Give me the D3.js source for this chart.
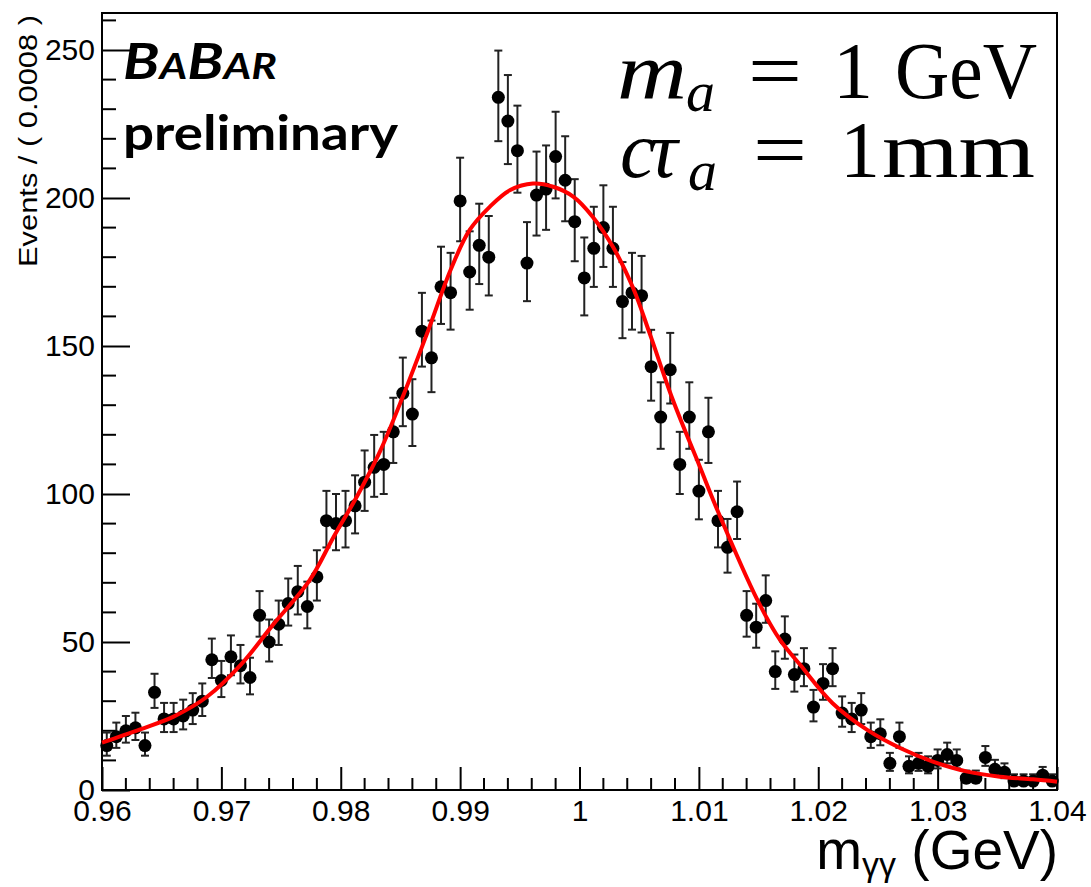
<!DOCTYPE html>
<html>
<head>
<meta charset="utf-8">
<script src="https://cdn.jsdelivr.net/npm/d3@7"></script>
<style>
  body { margin: 0; background: #fff; }
  text { font-family: "Liberation Sans", Arial, sans-serif; }
</style>
</head>
<body>
<svg id="chart" width="1091" height="887"></svg>
<script>
// histogram binning: 100 bins of 0.0008 GeV
const binLo = 0.96
const binHi = 1.04
const binWidth = 0.0008

// events per bin
const counts = [
  15, 18, 20, 21, 15, 33, 24, 24, 25, 27,
  30, 44, 37, 45, 42, 38, 59, 50, 56, 63,
  67, 62, 72, 91, 90, 91, 96, 104, 109, 110,
  121, 134, 127, 155, 146, 170, 168, 199, 175, 184,
  180, 234, 226, 216, 178, 201, 203, 214, 206, 192,
  173, 183, 190, 183, 165, 168, 167, 143, 126, 142,
  110, 126, 101, 121, 91, 82, 94, 59, 55, 64,
  40, 51, 39, 41, 28, 36, 41, 26, 24, 27,
  18, 19, 9, 18, 8, 9, 8, 10, 12, 10,
  4, 4, 11, 7, 6, 3, 3, 3, 5, 3
]

// fit curve, sampled from the plot
const fitMass = [
  0.9600, 0.9632, 0.9660, 0.9688, 0.9716, 0.9743, 0.9774, 0.9794, 0.9814, 0.9833,
  0.9852, 0.9873, 0.9892, 0.9908, 0.9925, 0.9942, 0.9961, 0.9978, 0.9995, 1.0011,
  1.0028, 1.0045, 1.0059, 1.0078, 1.0101, 1.0115, 1.0149, 1.0168, 1.0185, 1.0212,
  1.0241, 1.0269, 1.0296, 1.0325, 1.0352, 1.0380, 1.0400
]
const fitEvents = [
  16, 20.5, 24.8, 31.5, 42.2, 55.7, 70.9, 85.5, 99.5, 114.5,
  132.9, 155, 175.7, 189.2, 197.1, 202.7, 204.9, 203.8, 200.4, 193.7,
  183.5, 169.5, 154, 132, 109, 95, 64.2, 50.7, 42.2, 29.3,
  20.3, 14.1, 9.6, 6.2, 4.5, 3.6, 2.8
]

const xTickValues = [0.96, 0.97, 0.98, 0.99, 1.0, 1.01, 1.02, 1.03, 1.04]
const xTickLabels = ['0.96', '0.97', '0.98', '0.99', '1', '1.01', '1.02', '1.03', '1.04']
const yTickValues = [0, 50, 100, 150, 200, 250]
const yMax = 262.5

const margin = { top: 13, left: 102, bottom: 97, right: 34 }
const svg = d3.select('#chart')
const width = +svg.attr('width') - margin.left - margin.right
const height = +svg.attr('height') - margin.top - margin.bottom

const x = d3.scaleLinear().domain([binLo, binHi]).range([0, width])
const y = d3.scaleLinear().domain([0, yMax]).range([height, 0])

const g = svg.append('g').attr('transform', `translate(${margin.left},${margin.top})`)

// minor ticks
const xMinor = d3.range(0, 41).map(i => binLo + i * 0.002)
  .filter(v => !xTickValues.some(t => Math.abs(t - v) < 1e-9))
const yMinor = d3.range(0, 27).map(i => i * 10).filter(v => v % 50 !== 0)

g.append('g').selectAll('line').data(xMinor).join('line')
  .attr('x1', d => x(d)).attr('x2', d => x(d))
  .attr('y1', height).attr('y2', height - 12)
  .attr('stroke', '#000').attr('stroke-width', 2)
g.append('g').selectAll('line').data(yMinor).join('line')
  .attr('x1', 0).attr('x2', 14)
  .attr('y1', d => y(d)).attr('y2', d => y(d))
  .attr('stroke', '#000').attr('stroke-width', 2)

const xAxis = g.append('g').attr('transform', `translate(0,${height})`)
  .call(d3.axisBottom(x).tickValues(xTickValues)
    .tickFormat((d, i) => xTickLabels[i]).tickSize(-23).tickPadding(10))
const yAxis = g.append('g')
  .call(d3.axisLeft(y).tickValues(yTickValues).tickSize(-28).tickPadding(7))
;[xAxis, yAxis].forEach(a => {
  a.select('.domain').remove()
  a.selectAll('line').attr('stroke', '#000').attr('stroke-width', 2)
  a.selectAll('text').attr('font-size', 30).attr('fill', '#000')
    .style('font-family', '"Liberation Sans", Arial, sans-serif')
})

// frame
g.append('rect').attr('width', width).attr('height', height)
  .attr('fill', 'none').attr('stroke', '#000').attr('stroke-width', 2)

// data points with Poisson error bars
const points = counts.map((n, i) => ({
  m: binLo + binWidth * (i + 0.5),
  n,
  hi: n + Math.sqrt(n + 0.25) + 0.5,
  lo: n - Math.sqrt(n + 0.25) + 0.5
}))

const bars = g.append('g').attr('stroke', '#222').attr('stroke-width', 2)
bars.selectAll('.v').data(points).join('line').attr('class', 'v')
  .attr('x1', d => x(d.m)).attr('x2', d => x(d.m))
  .attr('y1', d => y(d.hi)).attr('y2', d => y(d.lo))
bars.selectAll('.cap-hi').data(points).join('line').attr('class', 'cap-hi')
  .attr('x1', d => x(d.m) - 4).attr('x2', d => x(d.m) + 4)
  .attr('y1', d => y(d.hi)).attr('y2', d => y(d.hi))
bars.selectAll('.cap-lo').data(points).join('line').attr('class', 'cap-lo')
  .attr('x1', d => x(d.m) - 4).attr('x2', d => x(d.m) + 4)
  .attr('y1', d => y(d.lo)).attr('y2', d => y(d.lo))

g.append('g').selectAll('circle').data(points).join('circle')
  .attr('cx', d => x(d.m)).attr('cy', d => y(d.n)).attr('r', 6.5).attr('fill', '#000')

// fit curve
const line = d3.line().x(d => x(d[0])).y(d => y(d[1])).curve(d3.curveCatmullRom)
g.append('path').datum(fitMass.map((m, i) => [m, fitEvents[i]]))
  .attr('d', line).attr('fill', 'none').attr('stroke', '#ff0000').attr('stroke-width', 4)

// axis titles
const xt = svg.append('text').attr('x', margin.left + width + 1).attr('y', 869)
  .attr('text-anchor', 'end').attr('font-size', 55).attr('fill', '#000')
xt.append('tspan').text('m')
xt.append('tspan').attr('font-size', 34).attr('dy', 7).text('γγ')
xt.append('tspan').attr('dy', -7).text(' (GeV)')

svg.append('text').attr('transform', 'translate(37,15) rotate(-90)')
  .attr('text-anchor', 'end').attr('font-size', 25).attr('fill', '#000')
  .attr('textLength', 252).attr('lengthAdjust', 'spacingAndGlyphs')
  .text('Events / ( 0.0008 )')

// BaBar label
const logo = svg.append('text').attr('x', 123).attr('y', 79)
  .style('font-family', 'Lato, "Open Sans", sans-serif').attr('font-weight', 700)
  .attr('font-style', 'italic').attr('fill', '#000')
  .attr('textLength', 154).attr('lengthAdjust', 'spacingAndGlyphs')
;[['B', 50], ['A', 36], ['B', 50], ['A', 36], ['R', 36]].forEach(([c, s]) => {
  logo.append('tspan').attr('font-size', s).text(c)
})
svg.append('text').attr('x', 123).attr('y', 150)
  .style('font-family', 'Lato, "Open Sans", sans-serif').attr('font-weight', 700)
  .attr('font-size', 48).attr('fill', '#000')
  .attr('textLength', 275).attr('lengthAdjust', 'spacingAndGlyphs')
  .text('preliminary')

// parameter labels
const serif = '"Liberation Serif", "DejaVu Serif", serif'
function mathLine (yBase, parts) {
  const t = svg.append('text').attr('y', yBase).style('font-family', serif)
    .attr('font-size', 80).attr('fill', '#000')
  parts.forEach(p => {
    const s = t.append('tspan').attr('x', p.x).attr('y', yBase + (p.sub ? 13 : 0))
      .attr('font-size', p.sub ? 58 : 80)
      .attr('font-style', p.it ? 'italic' : 'normal')
      .text(p.s)
    if (p.w) s.attr('textLength', p.w).attr('lengthAdjust', 'spacingAndGlyphs')
  })
}
mathLine(98, [
  { s: 'm', x: 617, it: true, w: 70 },
  { s: 'a', x: 686, it: true, sub: true },
  { s: '=', x: 748, w: 54 },
  { s: '1', x: 833 },
  { s: 'GeV', x: 895, w: 142 }
])
mathLine(177, [
  { s: 'c', x: 620, it: true },
  { s: 'τ', x: 649, it: true },
  { s: 'a', x: 688, it: true, sub: true },
  { s: '=', x: 753, w: 54 },
  { s: '1', x: 840 },
  { s: 'mm', x: 882, w: 153 }
])
</script>
</body>
</html>
